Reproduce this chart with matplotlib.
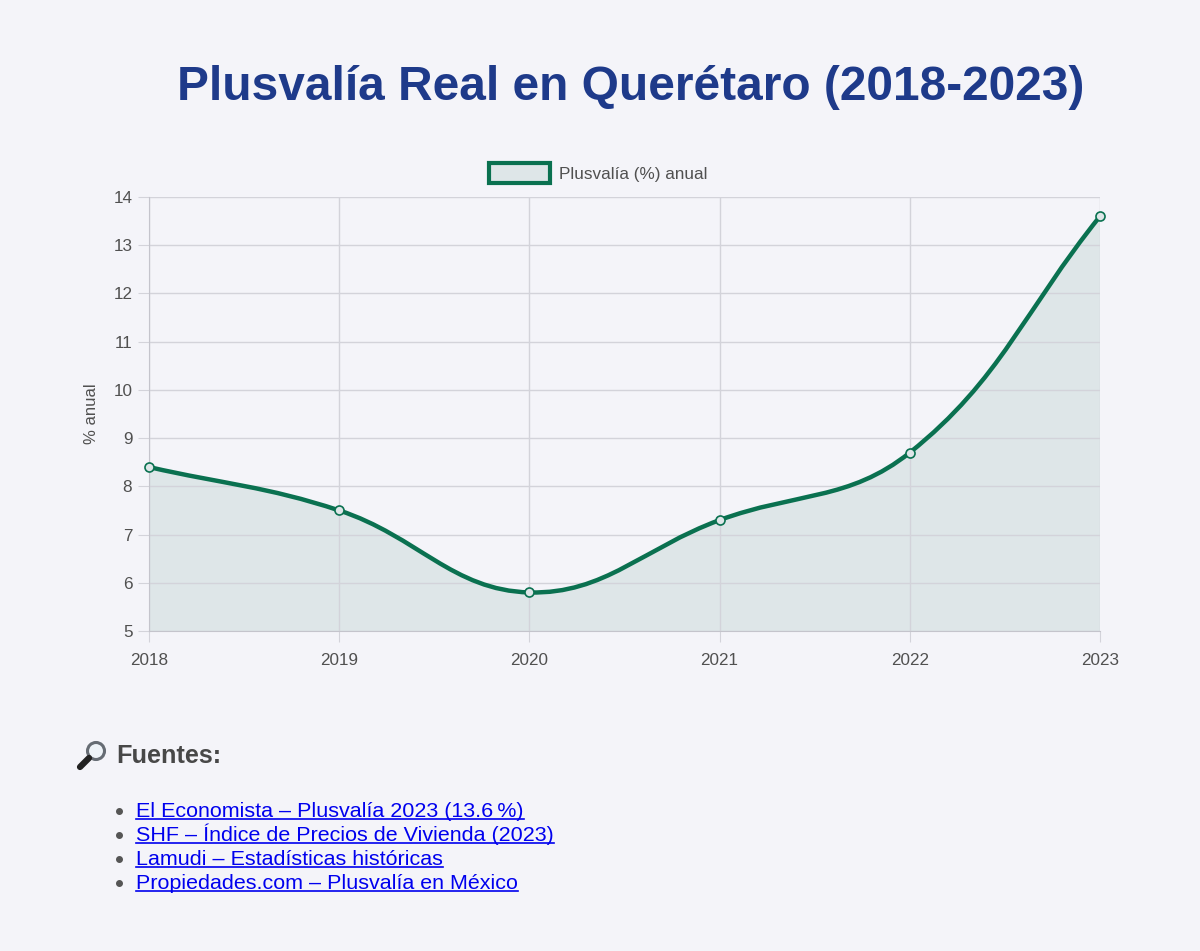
import numpy as np
import matplotlib
matplotlib.use("Agg")
import matplotlib.pyplot as plt
from matplotlib.path import Path
from matplotlib.patches import PathPatch, Rectangle

years = [2018, 2019, 2020, 2021, 2022, 2023]
plusvalia = [8.4, 7.5, 5.8, 7.3, 8.7, 13.6]
y_ticks = [5, 6, 7, 8, 9, 10, 11, 12, 13, 14]
title = "Plusvalía Real en Querétaro (2018-2023)"
legend_label = "Plusvalía (%) anual"
y_label = "% anual"
sources_title = "Fuentes:"
sources = [
    "El Economista – Plusvalía 2023 (13.6\u2009%)",
    "SHF – Índice de Precios de Vivienda (2023)",
    "Lamudi – Estadísticas históricas",
    "Propiedades.com – Plusvalía en México",
]

BG = "#f4f4f9"
LINE = "#0a7150"
FILL = "#dee6e8"
GRID = "#d3d3da"
TXT = "#505050"

plt.rcParams['font.family'] = ['Liberation Sans', 'DejaVu Sans']

W, H = 1200, 951
fig = plt.figure(figsize=(W / 100, H / 100), dpi=100, facecolor=BG)
ax = fig.add_axes([149 / W, 1 - 631 / H, (1100 - 149) / W, (631 - 197) / H])
ax.set_facecolor(BG)
ax.set_xlim(years[0], years[-1])
ax.set_ylim(y_ticks[0], y_ticks[-1])
ax.set_xticks(years)
ax.set_yticks(y_ticks)
ax.set_xticklabels([str(y) for y in years])
ax.grid(True, color=GRID, linewidth=1)
for s in ['top', 'right']:
    ax.spines[s].set_visible(False)
for s in ['left', 'bottom']:
    ax.spines[s].set_color("#c4c4cc")
ax.tick_params(axis='both', length=8, color=GRID, labelsize=12.3, labelcolor=TXT)
ax.tick_params(axis='x', pad=8)
ax.tick_params(axis='y', pad=4)
ax.set_ylabel(y_label, fontsize=12, color=TXT, labelpad=10)

# Chart.js-like spline (tension 0.4) computed in display space
fig.canvas.draw()
trans = ax.transData
pts = trans.transform(np.column_stack([years, plusvalia]))
t = 0.4
n = len(pts)
cps = []
for i in range(n):
    prev = pts[max(i - 1, 0)]
    cur = pts[i]
    nxt = pts[min(i + 1, n - 1)]
    d01 = np.hypot(*(cur - prev))
    d12 = np.hypot(*(nxt - cur))
    tot = d01 + d12
    s01 = d01 / tot if tot else 0
    s12 = d12 / tot if tot else 0
    fa = t * s01
    fb = t * s12
    cp_prev = cur - fa * (nxt - prev)
    cp_next = cur + fb * (nxt - prev)
    cps.append((cp_prev, cp_next))

verts = [pts[0]]
codes = [Path.MOVETO]
for i in range(n - 1):
    verts += [cps[i][1], cps[i + 1][0], pts[i + 1]]
    codes += [Path.CURVE4] * 3
verts_data = trans.inverted().transform(np.array(verts))

# fill
fill_verts = list(verts_data) + [[years[-1], y_ticks[0]], [years[0], y_ticks[0]], verts_data[0]]
fill_codes = codes + [Path.LINETO, Path.LINETO, Path.CLOSEPOLY]
ax.add_patch(PathPatch(Path(fill_verts, fill_codes), facecolor=FILL, edgecolor='none', zorder=1))
ax.add_patch(PathPatch(Path(verts_data, codes), facecolor='none', edgecolor=LINE, linewidth=3.2,
                       capstyle='round', joinstyle='round', zorder=3))
ax.plot(years, plusvalia, linestyle='none', marker='o', markersize=6.5, markerfacecolor=FILL,
        markeredgecolor=LINE, markeredgewidth=1.2, zorder=4, clip_on=False)

# title
fig.text(631 / W, 1 - 87 / H, title, ha='center', va='center', fontsize=34.5, fontweight='bold',
         color="#1e3a8a")

# legend
fig.patches.append(Rectangle((489 / W, 1 - 183 / H), 61 / W, 20 / H, transform=fig.transFigure,
                             facecolor=FILL, edgecolor=LINE, linewidth=3))
fig.text(559 / W, 1 - 174 / H, legend_label, ha='left', va='center', fontsize=12.3, color=TXT)

# sources heading with magnifier icon
icon_ax = fig.add_axes([76 / W, 1 - 771 / H, 32 / W, 32 / H])
icon_ax.set_xlim(0, 32)
icon_ax.set_ylim(0, 32)
icon_ax.axis('off')
icon_ax.plot([4, 13], [4, 13], color="#222222", linewidth=4.5, solid_capstyle='round')
circ = plt.Circle((20, 20), 8.5, facecolor="#eef3f8", edgecolor="#666c74", linewidth=2.2)
icon_ax.add_patch(circ)
fig.text(116 / W, 1 - 756 / H, sources_title, ha='left', va='center', fontsize=18.2,
         fontweight='bold', color="#484848")

fig.canvas.draw()
renderer = fig.canvas.get_renderer()
base0 = 817
for k, s in enumerate(sources):
    yb = base0 + 24 * k
    fig.add_artist(plt.Line2D([118.5 / W], [1 - (yb - 6) / H], transform=fig.transFigure,
                              marker='o', markersize=4, color="#555555", linestyle='none'))
    txt = fig.text(136 / W, 1 - yb / H, s, ha='left', va='baseline', fontsize=15.45, color="#0000ee")
    bb = txt.get_window_extent(renderer=renderer)
    uy = 1 - (yb + 2) / H
    fig.add_artist(plt.Line2D([bb.x0 / W, bb.x1 / W], [uy, uy], transform=fig.transFigure,
                              color="#0000ee", linewidth=1.2))

fig.savefig("out.png", dpi=100, facecolor=BG)
